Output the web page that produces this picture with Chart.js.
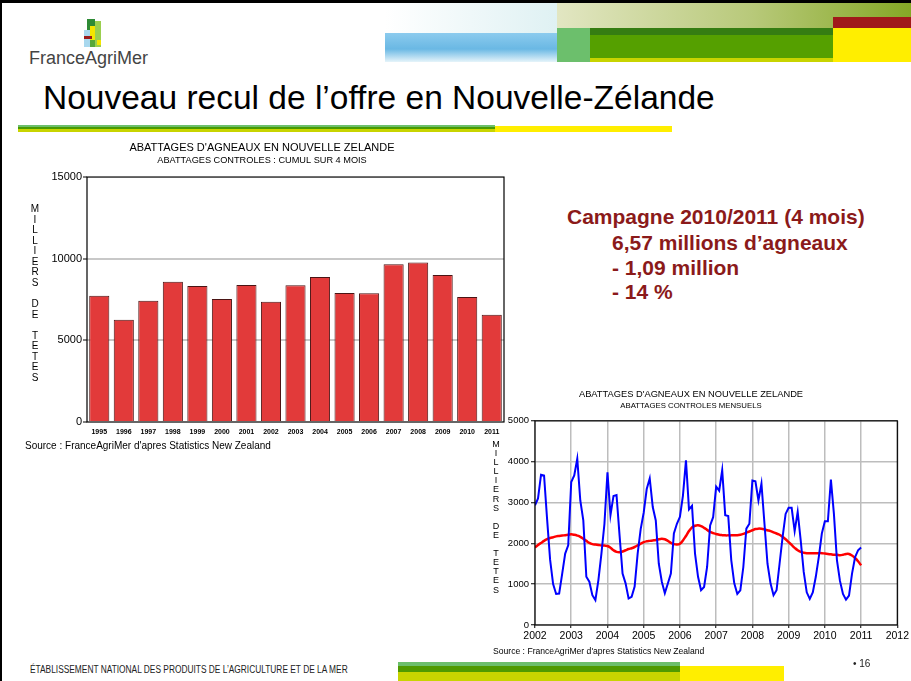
<!DOCTYPE html>
<html lang="fr">
<head>
<meta charset="utf-8">
<title>Nouveau recul de l'offre en Nouvelle-Zélande</title>
<script src="https://cdn.jsdelivr.net/npm/chart.js"></script>
<style>
  html, body { margin: 0; padding: 0; background: #fff; }
  body { font-family: Arial, "Liberation Sans", sans-serif; }
  .slide { position: relative; width: 911px; height: 681px; overflow: hidden; background: #fff; }
  .abs { position: absolute; }
  .stack { position: absolute; text-align: center; color: #000; white-space: pre; }
  canvas { position: absolute; }
</style>
</head>
<body>
<div class="slide">
  <!-- frame -->
  <div class="abs" style="left:0;top:0;width:911px;height:3px;background:#000"></div>
  <div class="abs" style="left:0;top:0;width:2px;height:681px;background:#000"></div>

  <!-- header decoration -->
  <div class="abs" style="left:385px;top:3px;width:172px;height:30px;background:linear-gradient(90deg,#ffffff,#dff1f3)"></div>
  <div class="abs" style="left:385px;top:33px;width:172px;height:29px;background:linear-gradient(180deg,#8ccbee,#6ab8e4 55%,#e6f4fa)"></div>
  <div class="abs" style="left:557px;top:3px;width:354px;height:25px;background:linear-gradient(90deg,#e2e6c2,#b8c97a 55%,#85a826)"></div>
  <div class="abs" style="left:833px;top:17px;width:78px;height:11px;background:#a01a1a"></div>
  <div class="abs" style="left:833px;top:28px;width:78px;height:34px;background:#ffee00"></div>
  <div class="abs" style="left:557px;top:28px;width:33px;height:34px;background:#6cbf6c"></div>
  <div class="abs" style="left:590px;top:28px;width:243px;height:7px;background:#357d12"></div>
  <div class="abs" style="left:590px;top:35px;width:243px;height:23px;background:#55a000"></div>
  <div class="abs" style="left:590px;top:58px;width:243px;height:4px;background:#c8d400"></div>

  <!-- logo -->
  <div class="abs" style="left:84px;top:30px;width:6px;height:17px;background:#a9d8ee"></div>
  <div class="abs" style="left:87px;top:19px;width:8px;height:11px;background:#2e8b35"></div>
  <div class="abs" style="left:95px;top:21px;width:6px;height:26px;background:#9bcf4f"></div>
  <div class="abs" style="left:90px;top:26px;width:5px;height:14px;background:#f4e500"></div>
  <div class="abs" style="left:84px;top:36px;width:8px;height:3px;background:#9b1b1b"></div>
  <div class="abs" style="left:90px;top:40px;width:5px;height:7px;background:#57a83a"></div>
  <div class="abs" style="left:97px;top:40px;width:4px;height:5px;background:#f4e500"></div>
  <div class="abs" style="left:29px;top:48px;font-size:18px;line-height:20px;color:#444">FranceAgriMer</div>

  <!-- slide title -->
  <div class="abs" style="left:43px;top:81px;font-size:33.5px;line-height:33px;color:#000;white-space:nowrap">Nouveau recul de l’offre en Nouvelle-Zélande</div>
  <div class="abs" style="left:18px;top:125px;width:477px;height:2px;background:#6cbf6c"></div>
  <div class="abs" style="left:18px;top:127px;width:477px;height:2px;background:#4a9a00"></div>
  <div class="abs" style="left:18px;top:129px;width:477px;height:3px;background:#c8d400"></div>
  <div class="abs" style="left:495px;top:126px;width:177px;height:6px;background:#ffee00"></div>

  <!-- key figures -->
  <div class="abs" style="left:567px;top:204px;font-size:21px;line-height:25px;font-weight:bold;color:#8b1a1a;white-space:nowrap">Campagne 2010/2011 (4 mois)</div>
  <div class="abs" style="left:612px;top:230px;font-size:21px;line-height:25px;font-weight:bold;color:#8b1a1a;white-space:nowrap">6,57 millions d’agneaux</div>
  <div class="abs" style="left:612px;top:255px;font-size:21px;line-height:25px;font-weight:bold;color:#8b1a1a;white-space:nowrap">- 1,09 million</div>
  <div class="abs" style="left:612px;top:279px;font-size:21px;line-height:25px;font-weight:bold;color:#8b1a1a;white-space:nowrap">- 14 %</div>

  <!-- charts -->
  <canvas id="lineChart" width="428" height="265" style="left:483px;top:383px"></canvas>
  <canvas id="barChart" width="490" height="305" style="left:20px;top:140px"></canvas>

  <div class="stack" style="left:30px;top:204px;width:10px;font-size:10px;line-height:10.56px">M
I
L
L
I
E
R
S

D
E

T
E
T
E
S</div>
  <div class="abs" style="left:25px;top:440px;font-size:10px;line-height:12px;white-space:nowrap">Source : FranceAgriMer d'apres Statistics New Zealand</div>

  <div class="stack" style="left:491px;top:440px;width:10px;font-size:9px;line-height:9.1px">M
I
L
L
I
E
R
S

D
E

T
E
T
E
S</div>
  <div class="abs" style="left:493px;top:646px;font-size:8.6px;line-height:10px;white-space:nowrap">Source : FranceAgriMer d'apres Statistics New Zealand</div>

  <!-- footer -->
  <div class="abs" style="left:30px;top:664px;font-size:10px;line-height:12px;color:#222;white-space:nowrap;transform:scaleX(0.835);transform-origin:0 0">ÉTABLISSEMENT NATIONAL DES PRODUITS DE L’AGRICULTURE ET DE LA MER</div>
  <div class="abs" style="left:398px;top:662px;width:282px;height:4px;background:#6cbf6c"></div>
  <div class="abs" style="left:398px;top:666px;width:282px;height:6px;background:#4f9a00"></div>
  <div class="abs" style="left:398px;top:672px;width:282px;height:9px;background:#c8d400"></div>
  <div class="abs" style="left:680px;top:666px;width:104px;height:15px;background:#ffee00"></div>
  <div class="abs" style="left:853px;top:658px;font-size:10px;line-height:12px;color:#222">• 16</div>
</div>

<script>
// bar chart : cumul sur 4 mois, milliers de tetes
const barYears = ['1995', '1996', '1997', '1998', '1999', '2000', '2001', '2002', '2003',
  '2004', '2005', '2006', '2007', '2008', '2009', '2010', '2011'];
const barValues = [7730, 6260, 7430, 8590, 8330, 7530, 8390, 7370, 8370,
  8880, 7900, 7880, 9660, 9760, 9000, 7660, 6570];
const barTicks = [0, 5000, 10000, 15000];

// line chart : abattages mensuels, janvier 2002 -> janvier 2011
const monthlyStart = 2002;
const monthlySlaughter = [
  2930, 3100, 3680, 3660, 2600, 1600, 1000, 760, 770, 1250, 1750, 1950,
  3500, 3660, 4070, 3050, 2560, 1180, 1060, 730, 610, 1100, 1750, 2480,
  3740, 2690, 3160, 3180, 2200, 1260, 1020, 650, 690, 940, 1750, 2350,
  2750, 3330, 3590, 2890, 2560, 1500, 1060, 780, 1015, 1260, 2240, 2480,
  2650, 3170, 4030, 2830, 2920, 1750, 1180, 850, 930, 1420, 2440, 2640,
  3390, 3290, 3790, 2690, 2670, 1590, 1020, 760, 850, 1420, 2360, 2480,
  3540, 3520, 3050, 3460, 2480, 1500, 1020, 730, 850, 1500, 2150, 2720,
  2870, 2870, 2300, 2770, 2070, 1300, 800, 640, 800, 1180, 1670, 2240,
  2540, 2540, 3560, 2720, 1590, 1080, 760, 620, 720, 1260, 1660, 1830,
  1900
];
const monthlyTrend = [
  1900, 1960, 2010, 2060, 2100, 2130, 2150, 2170, 2180, 2190, 2200, 2210,
  2220, 2210, 2190, 2160, 2110, 2060, 2010, 1980, 1970, 1960, 1950, 1945,
  1935, 1890, 1830, 1790, 1780, 1800, 1830, 1860, 1880, 1910, 1950, 1990,
  2030, 2050, 2060, 2070, 2080, 2100, 2110, 2100, 2060, 2010, 1980, 1970,
  1990, 2070, 2180, 2300, 2390, 2430, 2440, 2420, 2380, 2330, 2280, 2250,
  2230, 2210, 2200, 2195, 2195, 2195, 2200, 2200, 2210, 2230, 2260, 2290,
  2320, 2350, 2360, 2355, 2340, 2320, 2300, 2270, 2240, 2210, 2160, 2100,
  2030, 1960, 1890, 1830, 1790, 1770, 1760, 1760, 1760, 1760, 1760, 1760,
  1750, 1740, 1730, 1720, 1720, 1710, 1720, 1740, 1740, 1700, 1640, 1560,
  1460
];
const yearTicks = [2002, 2003, 2004, 2005, 2006, 2007, 2008, 2009, 2010, 2011, 2012];
const lineTicks = [0, 1000, 2000, 3000, 4000, 5000];

Chart.defaults.font.family = 'Arial, "Liberation Sans", sans-serif';
Chart.defaults.color = '#000';

// black box around the plot area
const plotFrame = {
  id: 'plotFrame',
  afterDatasetsDraw(chart) {
    const { ctx, chartArea: a } = chart;
    ctx.save();
    ctx.strokeStyle = '#000';
    ctx.lineWidth = 1.2;
    ctx.strokeRect(a.left, a.top, a.right - a.left, a.bottom - a.top);
    ctx.restore();
  }
};

const toMonthPoints = (values) => values.map((v, i) => ({ x: monthlyStart + i / 12, y: v }));
const plainNumber = (v) => String(v);

new Chart(document.getElementById('barChart'), {
  type: 'bar',
  data: {
    labels: barYears,
    datasets: [{
      data: barValues,
      backgroundColor: '#e23a3a',
      borderColor: '#4a1414',
      borderWidth: 1,
      barPercentage: 0.82,
      categoryPercentage: 1
    }]
  },
  options: {
    responsive: false,
    animation: false,
    layout: { padding: { top: 0, right: 6, bottom: 0, left: 0 } },
    plugins: {
      legend: { display: false },
      tooltip: { enabled: false },
      title: {
        display: true,
        text: "ABATTAGES D'AGNEAUX EN NOUVELLE ZELANDE",
        font: { size: 11, weight: 'normal' },
        color: '#000',
        padding: { top: 1, bottom: 1 }
      },
      subtitle: {
        display: true,
        text: 'ABATTAGES CONTROLES : CUMUL SUR 4 MOIS',
        font: { size: 9.2 },
        color: '#000',
        padding: { top: 0, bottom: 10.8 }
      }
    },
    scales: {
      x: {
        grid: { display: false, drawTicks: false },
        border: { display: false },
        ticks: { font: { size: 7, weight: 'bold' }, color: '#000', padding: 6, maxRotation: 0, autoSkip: false },
        afterFit: (s) => { s.height = 23; }
      },
      y: {
        min: 0,
        max: 15000,
        afterBuildTicks: (s) => { s.ticks = barTicks.map(v => ({ value: v })); },
        ticks: { callback: plainNumber, font: { size: 11 }, color: '#000', padding: 1 },
        grid: {
          color: (c) => (c.tick && c.tick.value > 0 && c.tick.value < 15000) ? '#c8c8c8' : 'rgba(0,0,0,0)',
          lineWidth: 2,
          tickColor: '#000',
          tickLength: 4,
          tickWidth: 1
        },
        border: { display: false },
        afterFit: (s) => { s.width = 67; }
      }
    }
  },
  plugins: [plotFrame]
});

new Chart(document.getElementById('lineChart'), {
  type: 'line',
  data: {
    datasets: [
      {
        data: toMonthPoints(monthlySlaughter),
        borderColor: '#0000ff',
        borderWidth: 2,
        pointRadius: 0,
        tension: 0
      },
      {
        data: toMonthPoints(monthlyTrend),
        borderColor: '#ff0000',
        borderWidth: 2.5,
        pointRadius: 0,
        tension: 0.4
      }
    ]
  },
  options: {
    responsive: false,
    animation: false,
    layout: { padding: { top: 0, right: 12, bottom: 0, left: 0 } },
    plugins: {
      legend: { display: false },
      tooltip: { enabled: false },
      title: {
        display: true,
        text: "ABATTAGES D'AGNEAUX EN NOUVELLE ZELANDE",
        font: { size: 9.3, weight: 'normal' },
        color: '#000',
        padding: { top: 5.8, bottom: 0.5 }
      },
      subtitle: {
        display: true,
        text: 'ABATTAGES CONTROLES MENSUELS',
        font: { size: 7.8 },
        color: '#000',
        padding: { top: 0.5, bottom: 10.5 }
      }
    },
    scales: {
      x: {
        type: 'linear',
        min: 2002,
        max: 2012,
        afterBuildTicks: (s) => { s.ticks = yearTicks.map(v => ({ value: v })); },
        ticks: { callback: plainNumber, font: { size: 10.5 }, color: '#000', padding: 2, maxRotation: 0 },
        grid: { color: '#bdbdbd', lineWidth: 1.5, tickColor: '#000', tickLength: 3, tickWidth: 1 },
        border: { display: false },
        afterFit: (s) => { s.height = 23; }
      },
      y: {
        min: 0,
        max: 5000,
        afterBuildTicks: (s) => { s.ticks = lineTicks.map(v => ({ value: v })); },
        ticks: { callback: plainNumber, font: { size: 9.5 }, color: '#000', padding: 2 },
        grid: { color: '#bdbdbd', lineWidth: 1.5, tickColor: '#000', tickLength: 4, tickWidth: 1 },
        border: { display: false },
        afterFit: (s) => { s.width = 52; }
      }
    }
  },
  plugins: [plotFrame]
});
</script>
</body>
</html>
